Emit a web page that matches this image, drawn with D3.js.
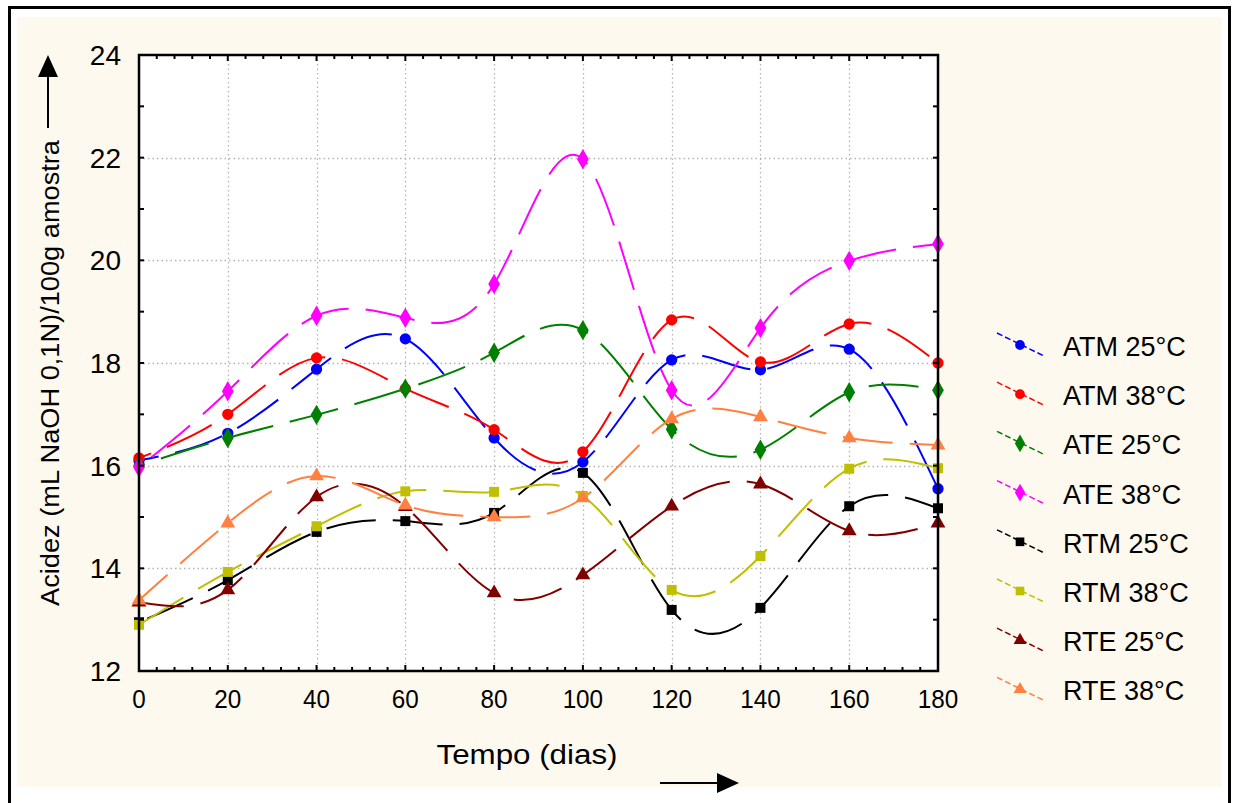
<!DOCTYPE html>
<html>
<head>
<meta charset="utf-8">
<script src="https://cdn.jsdelivr.net/npm/d3@7"></script>
<style>
  body { margin: 0; background: #fff; }
  text { font-family: "Liberation Sans", Arial, sans-serif; fill: #000; }
</style>
</head>
<body>
<svg id="chart"></svg>
<script>
// sampling days
const days = [0, 20, 40, 60, 80, 100, 120, 140, 160, 180];

// acidity values
const atm25 = [16.1, 16.63, 17.88, 18.47, 16.54, 16.07, 18.06, 17.87, 18.27, 15.55];
const atm38 = [16.15, 17.0, 18.1, 17.5, 16.7, 16.27, 18.84, 18.02, 18.76, 18.0];
const ate25 = [16.0, 16.54, 16.99, 17.5, 18.2, 18.64, 16.71, 16.31, 17.43, 17.47];
const ate38 = [15.97, 17.45, 18.92, 18.88, 19.54, 21.97, 17.47, 18.68, 19.99, 20.32];
const rtm25 = [12.95, 13.77, 14.71, 14.92, 15.08, 15.86, 13.19, 13.23, 15.21, 15.17];
const rtm38 = [12.9, 13.93, 14.82, 15.5, 15.49, 15.41, 13.58, 14.24, 15.94, 15.95];
const rte25 = [13.34, 13.58, 15.39, 15.2, 13.52, 13.87, 15.21, 15.64, 14.73, 14.88];
const rte38 = [13.38, 14.88, 15.8, 15.23, 15.0, 15.37, 16.91, 16.95, 16.54, 16.4];

const seriesNames = ["ATM 25°C", "ATM 38°C", "ATE 25°C", "ATE 38°C", "RTM 25°C", "RTM 38°C", "RTE 25°C", "RTE 38°C"];
const seriesValues = [atm25, atm38, ate25, ate38, rtm25, rtm38, rte25, rte38];
const seriesColors = ["#0000ff", "#ff0000", "#008000", "#ff00ff", "#000000", "#bfbf00", "#800000", "#ff8040"];
const seriesSymbols = ["circle", "circle", "diamond", "diamond", "square", "square", "triangle", "triangle"];

const xTicks = [0, 20, 40, 60, 80, 100, 120, 140, 160, 180];
const yTicks = [12, 14, 16, 18, 20, 22, 24];

const W = 1234, H = 803;
const plot = { left: 139, right: 938, top: 55, bottom: 671 };

const svg = d3.select("#chart").attr("width", W).attr("height", H);

// page frame and cream panel
svg.append("rect").attr("x", 9.5).attr("y", 7.5).attr("width", 1220).attr("height", 810)
    .attr("fill", "#fff").attr("stroke", "#000").attr("stroke-width", 3);
svg.append("rect").attr("x", 17).attr("y", 17).attr("width", 1205).attr("height", 770)
    .attr("fill", "#fef9ee");

const x = d3.scaleLinear().domain([0, 180]).range([plot.left, plot.right]);
const y = d3.scaleLinear().domain([12, 24]).range([plot.bottom, plot.top]);

svg.append("rect").attr("x", plot.left).attr("y", plot.top)
    .attr("width", plot.right - plot.left).attr("height", plot.bottom - plot.top)
    .attr("fill", "#fff");

// dotted grid
const grid = svg.append("g").attr("stroke", "#b4b4b4").attr("stroke-width", 1.3)
    .attr("stroke-dasharray", "1.5,3");
grid.selectAll(".gx").data(xTicks.slice(1, -1)).enter().append("line")
    .attr("x1", d => Math.round(x(d)) + 0.5).attr("x2", d => Math.round(x(d)) + 0.5)
    .attr("y1", plot.top).attr("y2", plot.bottom);
grid.selectAll(".gy").data(yTicks.slice(1, -1)).enter().append("line")
    .attr("y1", d => Math.round(y(d)) + 0.5).attr("y2", d => Math.round(y(d)) + 0.5)
    .attr("x1", plot.left).attr("x2", plot.right);

// series curves
svg.append("clipPath").attr("id", "clip").append("rect")
    .attr("x", plot.left).attr("y", plot.top)
    .attr("width", plot.right - plot.left).attr("height", plot.bottom - plot.top);

const line = d3.line()
    .x((d, i) => x(days[i]))
    .y(d => y(d))
    .curve(d3.curveNatural);

const curves = svg.append("g").attr("clip-path", "url(#clip)");
seriesValues.forEach((vals, k) => {
    curves.append("path")
        .attr("d", line(vals))
        .attr("fill", "none")
        .attr("stroke", seriesColors[k])
        .attr("stroke-width", 2)
        .attr("stroke-dasharray", "50,17")
        .attr("stroke-dashoffset", 30 + k * 7);
});

function symbolPath(kind, scale) {
    const types = { circle: d3.symbolCircle, diamond: d3.symbolDiamond, square: d3.symbolSquare, triangle: d3.symbolTriangle };
    const sizes = { circle: 100, diamond: 120, square: 100, triangle: 95 };
    return d3.symbol().type(types[kind]).size(sizes[kind] * scale)();
}

const marks = svg.append("g");
seriesValues.forEach((vals, k) => {
    marks.selectAll(".m" + k).data(vals).enter().append("path")
        .attr("d", symbolPath(seriesSymbols[k], 1))
        .attr("transform", (d, i) => `translate(${x(days[i])},${y(d)})`)
        .attr("fill", seriesColors[k]);
});

// frame
svg.append("rect").attr("x", plot.left).attr("y", plot.top)
    .attr("width", plot.right - plot.left).attr("height", plot.bottom - plot.top)
    .attr("fill", "none").attr("stroke", "#000").attr("stroke-width", 2.5);

// inward ticks on all four sides
const ticks = svg.append("g").attr("stroke", "#000").attr("stroke-width", 2);
const xMinor = d3.range(0, 181, 4);
const yMinor = d3.range(12, 24.01, 1);
xMinor.forEach(v => {
    const len = v % 20 === 0 ? 6 : 4;
    ticks.append("line").attr("x1", x(v)).attr("x2", x(v)).attr("y1", plot.bottom).attr("y2", plot.bottom - len);
    ticks.append("line").attr("x1", x(v)).attr("x2", x(v)).attr("y1", plot.top).attr("y2", plot.top + len);
});
yMinor.forEach(v => {
    ticks.append("line").attr("y1", y(v)).attr("y2", y(v)).attr("x1", plot.left).attr("x2", plot.left + 5);
    ticks.append("line").attr("y1", y(v)).attr("y2", y(v)).attr("x1", plot.right).attr("x2", plot.right - 5);
});

// tick labels
svg.append("g").selectAll("text").data(xTicks).enter().append("text")
    .attr("x", d => x(d)).attr("y", 708)
    .attr("text-anchor", "middle")
    .attr("font-size", 26)
    .attr("textLength", d => String(d).length * 13.5)
    .attr("lengthAdjust", "spacingAndGlyphs")
    .text(d => d);

svg.append("g").selectAll("text").data(yTicks).enter().append("text")
    .attr("x", 121).attr("y", d => y(d) + 10)
    .attr("text-anchor", "end")
    .attr("font-size", 28)
    .text(d => d);

// axis titles
svg.append("text")
    .attr("x", 527).attr("y", 764)
    .attr("text-anchor", "middle")
    .attr("font-size", 27)
    .attr("textLength", 181)
    .attr("lengthAdjust", "spacingAndGlyphs")
    .text("Tempo (dias)");

svg.append("text")
    .attr("transform", "translate(59,373) rotate(-90)")
    .attr("text-anchor", "middle")
    .attr("font-size", 26)
    .attr("textLength", 466)
    .attr("lengthAdjust", "spacingAndGlyphs")
    .text("Acidez (mL NaOH 0,1N)/100g amostra");

// arrows next to the axis titles
svg.append("line").attr("x1", 48).attr("x2", 48).attr("y1", 128).attr("y2", 74)
    .attr("stroke", "#000").attr("stroke-width", 2);
svg.append("path").attr("d", "M48,55 L38,77 L58,77 Z").attr("fill", "#000");
svg.append("line").attr("x1", 660).attr("x2", 720).attr("y1", 783).attr("y2", 783)
    .attr("stroke", "#000").attr("stroke-width", 2);
svg.append("path").attr("d", "M739,783 L717,773 L717,793 Z").attr("fill", "#000");

// legend
const legend = svg.append("g");
seriesNames.forEach((name, k) => {
    const cy = 345 + k * 49.2;
    legend.append("line")
        .attr("x1", 997).attr("y1", cy - 12).attr("x2", 1044).attr("y2", cy + 11)
        .attr("stroke", seriesColors[k]).attr("stroke-width", 1.5)
        .attr("stroke-dasharray", "6,3");
    legend.append("path")
        .attr("d", symbolPath(seriesSymbols[k], 0.75))
        .attr("transform", `translate(1020,${cy})`)
        .attr("fill", seriesColors[k]);
    legend.append("text")
        .attr("x", 1063).attr("y", cy + 11)
        .attr("font-size", 27)
        .text(name);
});
</script>
</body>
</html>
